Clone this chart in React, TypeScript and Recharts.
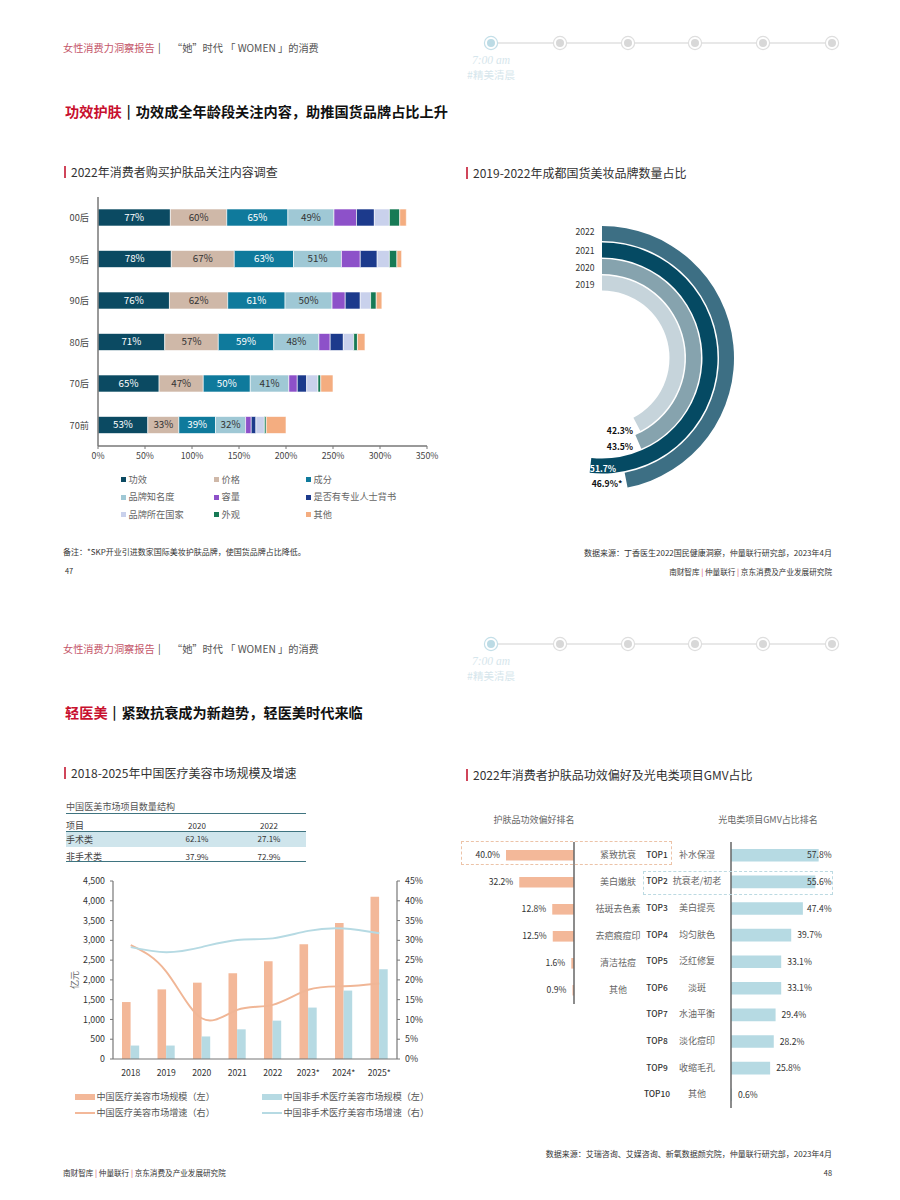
import React from 'react';
import {
  BarChart, Bar, XAxis, YAxis, LabelList, RadialBarChart, RadialBar, PolarAngleAxis, PolarRadiusAxis,
  Cell, ComposedChart, Line,
} from 'recharts';

const FONT = '"Noto Sans CJK SC", "Noto Sans", sans-serif';

// 关注内容调查
const generations = ['00后', '95后', '90后', '80后', '70后', '70前'];
const effectVals = [77, 78, 76, 71, 65, 53];
const priceVals = [60, 67, 62, 57, 47, 33];
const ingredientVals = [65, 63, 61, 59, 50, 39];
const brandVals = [49, 51, 50, 48, 41, 32];
const volumeVals = [24, 20, 14, 12, 9, 6];
const endorseVals = [19, 18, 16, 14, 10, 5];
const countryVals = [16, 13, 11, 11, 12, 9];
const lookVals = [11, 8, 6, 4, 3, 2];
const otherVals = [7, 5, 6, 8, 13, 21];
const surveySeries = [
  { name: '功效', vals: effectVals, color: '#0b4a62', label: '#ffffff' },
  { name: '价格', vals: priceVals, color: '#cfb8a8', label: '#333333' },
  { name: '成分', vals: ingredientVals, color: '#0f7a9c', label: '#ffffff' },
  { name: '品牌知名度', vals: brandVals, color: '#9fc8d5', label: '#333333' },
  { name: '容量', vals: volumeVals, color: '#8d51c9' },
  { name: '是否有专业人士背书', vals: endorseVals, color: '#1c3a8c' },
  { name: '品牌所在国家', vals: countryVals, color: '#c9d1ec' },
  { name: '外观', vals: lookVals, color: '#177a55' },
  { name: '其他', vals: otherVals, color: '#f4ad80' },
];
const surveyRows = generations.map((g, i) => {
  const row: any = { g };
  surveySeries.forEach((s) => { row[s.name] = s.vals[i]; });
  return row;
});

// 国货美妆品牌占比
const ringYears = ['2019', '2020', '2021', '2022'];
const ringVals = [42.3, 43.5, 51.7, 46.9];
const ringColors = ['#c6d4db', '#86a3ae', '#054a63', '#3d6f84'];
const ringRows = ringYears.map((year, i) => ({ year, v: ringVals[i] }));

// 医美市场规模
const marketYears = ['2018', '2019', '2020', '2021', '2022', '2023*', '2024*', '2025*'];
const marketSize = [1440, 1760, 1930, 2170, 2470, 2900, 3440, 4100];
const nonSurgicalSize = [340, 340, 570, 750, 970, 1300, 1730, 2270];
const marketGrowth = [28.8, 22.1, 10.3, 12.4, 13.7, 17.5, 18.4, 19.1];
const nonSurgicalGrowth = [28.3, 27, 28.3, 30.1, 30.5, 32.4, 33, 31.8];
const marketRows = marketYears.map((y, i) => ({
  y, size: marketSize[i], non: nonSurgicalSize[i], growth: marketGrowth[i], nonGrowth: nonSurgicalGrowth[i],
}));
const sizeTicks = [0, 500, 1000, 1500, 2000, 2500, 3000, 3500, 4000, 4500];
const rateTicks = [0, 5, 10, 15, 20, 25, 30, 35, 40, 45];

// 项目数量结构
const tableYears = ['2020', '2022'];
const tableRowsData = [
  { name: '手术类', vals: ['62.1%', '27.1%'] },
  { name: '非手术类', vals: ['37.9%', '72.9%'] },
];

// 功效偏好
const prefNames = ['紧致抗衰', '美白嫩肤', '祛斑去色素', '去疤痕痘印', '清洁祛痘', '其他'];
const prefVals = [40.0, 32.2, 12.8, 12.5, 1.6, 0.9];
const prefRows = prefNames.map((name, i) => ({ name, v: prefVals[i] }));
const gmvRanks = ['TOP1', 'TOP2', 'TOP3', 'TOP4', 'TOP5', 'TOP6', 'TOP7', 'TOP8', 'TOP9', 'TOP10'];
const gmvNames = ['补水保湿', '抗衰老/初老', '美白提亮', '均匀肤色', '泛红修复', '淡斑', '水油平衡', '淡化痘印', '收缩毛孔', '其他'];
const gmvVals = [57.8, 55.6, 47.4, 39.7, 33.1, 33.1, 29.4, 28.2, 25.8, 0.6];
const gmvRows = gmvNames.map((name, i) => ({ name, v: gmvVals[i] }));

const ORANGE = '#f3b899';
const BLUE = '#b6dae3';
const AXIS = '#777777';

// y is the vertical middle of the text
function T({ x, y, size = 9, color = '#444', weight = 400, anchor = 'left', rotate = 0, style, children }: any) {
  const tx = anchor === 'center' ? '-50%' : anchor === 'right' ? '-100%' : '0';
  return (
    <div style={{
      position: 'absolute', left: x, top: y, fontSize: size, color, fontWeight: weight, lineHeight: 1,
      whiteSpace: 'nowrap', transform: `translate(${tx}, -50%) rotate(${rotate}deg)`, ...style,
    }}>{children}</div>
  );
}

function Box({ x, y, w, h, color, style }: any) {
  return <div style={{ position: 'absolute', left: x, top: y, width: w, height: h, background: color, ...style }} />;
}

const dotXs = [491, 560, 628, 695, 763, 832];

function PageHead({ y, title, subtitle, left, right, leftY, rightY }: any) {
  return (
    <>
      <T x={63} y={y + 48} size={10.2} color="#c4566a">女性消费力洞察报告</T>
      <T x={158} y={y + 47} size={10} color="#444">|</T>
      <T x={172} y={y + 48} size={10.2} color="#555">“她”时代 「 WOMEN 」的消费</T>
      <Box x={491} y={y + 42} w={341} h={1.5} color="#e8e8e8" />
      {dotXs.map((dx, i) => (
        <div key={dx} style={{
          position: 'absolute', left: dx - 6, top: y + 37, width: 12, height: 12, borderRadius: '50%', boxSizing: 'border-box',
          background: i === 0 ? '#bcdbe5' : '#d8d8d8', border: '2px solid #fff', boxShadow: `0 0 0 1.2px ${i === 0 ? '#c4dfe8' : '#dedede'}`,
        }} />
      ))}
      <T x={491} y={y + 61} size={11.5} color="#d6e6ec" anchor="center" style={{ fontFamily: '"Liberation Serif", serif', fontStyle: 'italic' }}>7:00 am</T>
      <T x={491} y={y + 75} size={10.5} color="#d6e6ec" anchor="center">#精美清晨</T>
      <T x={65} y={y + 111} size={14.2} color="#c8102e" weight={700}>{title}</T>
      <T x={title.length * 14.2 + 65 + 5} y={y + 110} size={13} color="#111" weight={700}>|</T>
      <T x={title.length * 14.2 + 65 + 14} y={y + 111} size={14.2} color="#111" weight={700}>{subtitle}</T>
      <Box x={64} y={leftY - 6} w={1.5} h={12} color="#d0455a" />
      <T x={71} y={leftY} size={12} color="#333">{left}</T>
      <Box x={466} y={rightY - 6} w={1.5} h={12} color="#d0455a" />
      <T x={473} y={rightY} size={12} color="#333">{right}</T>
    </>
  );
}

function FooterOrgs({ x, y, anchor }: any) {
  return (
    <T x={x} y={y} size={7.6} color="#333" anchor={anchor}>
      南财智库 <span style={{ color: '#d0455a' }}>|</span> 仲量联行 <span style={{ color: '#d0455a' }}>|</span> 京东消费及产业发展研究院
    </T>
  );
}

function SurveyChart() {
  return (
    <div style={{ position: 'absolute', left: 50, top: 190 }}>
      <BarChart
        width={400} height={280} layout="vertical" data={surveyRows}
        margin={{ top: 7, right: 23, bottom: 0, left: 0 }} barSize={17}
      >
        <XAxis
          type="number" domain={[0, 350]} ticks={[0, 50, 100, 150, 200, 250, 300, 350]} tickFormatter={(v) => `${v}%`}
          height={24} interval={0} tick={{ fontSize: 8.8, fill: '#444' }} tickSize={3} tickMargin={4}
          axisLine={{ stroke: AXIS, strokeWidth: 1.5 }} tickLine={{ stroke: AXIS }}
        />
        <YAxis
          type="category" dataKey="g" width={48} tickLine={false} tickSize={0} tickMargin={9}
          tick={{ fontSize: 9.2, fill: '#444' }} axisLine={{ stroke: AXIS, strokeWidth: 1.5 }}
        />
        {surveySeries.map((s) => (
          <Bar key={s.name} dataKey={s.name} stackId="a" fill={s.color} stroke="#fff" strokeWidth={0.6} isAnimationActive={false}>
            {s.label && (
              <LabelList dataKey={s.name} position="center" formatter={(v: any) => `${v}%`} fill={s.label} fontSize={9.8} stroke="none" />
            )}
          </Bar>
        ))}
      </BarChart>
    </div>
  );
}

function SurveyLegend() {
  const colX = [121, 214, 306];
  const rowY = [479.5, 497, 514.5];
  return (
    <>
      {surveySeries.map((s, i) => {
        const x = colX[i % 3];
        const y = rowY[Math.floor(i / 3)];
        return (
          <React.Fragment key={s.name}>
            <Box x={x} y={y - 2.5} w={5} h={5} color={s.color} />
            <T x={x + 7.5} y={y} size={9.2} color="#666">{s.name}</T>
          </React.Fragment>
        );
      })}
    </>
  );
}

function RingChart() {
  return (
    <div style={{ position: 'absolute', left: 460, top: 200 }}>
      <RadialBarChart
        width={300} height={320} cx={142} cy={158} data={ringRows} startAngle={90} endAngle={-270}
        innerRadius={66.5} outerRadius={132.5} barSize={15} margin={{ top: 0, right: 0, bottom: 0, left: 0 }}
      >
        <PolarAngleAxis type="number" domain={[0, 100]} tick={false} axisLine={false} />
        <PolarRadiusAxis type="category" dataKey="year" tick={false} axisLine={false} />
        <RadialBar dataKey="v" isAnimationActive={false}>
          {ringRows.map((r, i) => <Cell key={r.year} fill={ringColors[i]} />)}
        </RadialBar>
      </RadialBarChart>
    </div>
  );
}

function RingLabels() {
  const yearYs = [284, 267, 250, 231];
  const valPos = [[620, 430, '#111'], [620, 446, '#111'], [603, 468, '#fff'], [607, 483, '#111']] as any[];
  return (
    <>
      {ringYears.map((y, i) => <T key={y} x={585} y={yearYs[i]} size={8.6} color="#333" anchor="center">{y}</T>)}
      {ringVals.map((v, i) => (
        <T key={i} x={valPos[i][0]} y={valPos[i][1]} size={8.6} weight={700} color={valPos[i][2]} anchor="center">
          {v}%{i === 3 ? '*' : ''}
        </T>
      ))}
    </>
  );
}

function MarketTable() {
  const cols = [197, 269];
  const rowY = [837.5, 856];
  return (
    <>
      <T x={66} y={807} size={9.1} color="#555">中国医美市场项目数量结构</T>
      <Box x={66} y={812.5} w={240} h={1} color="#3f7480" />
      <T x={66} y={825} size={9} color="#444">项目</T>
      {tableYears.map((y, i) => <T key={y} x={cols[i]} y={826} size={8} color="#333" anchor="center">{y}</T>)}
      <Box x={66} y={830.5} w={240} h={16.5} color="#cfe5ec" style={{ borderTop: '1px solid #3f7480', boxSizing: 'border-box' }} />
      {tableRowsData.map((r, j) => (
        <React.Fragment key={r.name}>
          <T x={66} y={rowY[j] + (j === 0 ? 1 : 0)} size={9} color="#444">{r.name}</T>
          {r.vals.map((v, i) => <T key={i} x={cols[i]} y={rowY[j] + 1} size={8} color="#333" anchor="center">{v}</T>)}
        </React.Fragment>
      ))}
      <Box x={66} y={861} w={240} h={1} color="#3f7480" />
    </>
  );
}

function MarketChart() {
  return (
    <div style={{ position: 'absolute', left: 50, top: 871 }}>
      <ComposedChart
        width={400} height={210} data={marketRows} barSize={8.6} barGap={0}
        margin={{ top: 10, right: 0, bottom: 0, left: 0 }}
      >
        <XAxis
          dataKey="y" height={22} interval={0} tickLine={false} tickSize={0} tickMargin={11}
          tick={{ fontSize: 8.6, fill: '#333' }} axisLine={{ stroke: AXIS, strokeWidth: 1.2 }}
        />
        <YAxis
          yAxisId="left" width={63} domain={[0, 4500]} ticks={sizeTicks} interval={0} tickFormatter={(v) => v.toLocaleString('en-US')}
          tick={{ fontSize: 8.8, fill: '#333' }} tickSize={3} tickMargin={5}
          axisLine={{ stroke: AXIS, strokeWidth: 1.2 }} tickLine={{ stroke: AXIS }}
        />
        <YAxis
          yAxisId="right" orientation="right" width={53} domain={[0, 45]} ticks={rateTicks} interval={0} tickFormatter={(v) => `${v}%`}
          tick={{ fontSize: 8.8, fill: '#333' }} tickSize={3} tickMargin={5}
          axisLine={{ stroke: AXIS, strokeWidth: 1.2 }} tickLine={{ stroke: AXIS }}
        />
        <Bar yAxisId="left" dataKey="size" fill={ORANGE} isAnimationActive={false} />
        <Bar yAxisId="left" dataKey="non" fill={BLUE} isAnimationActive={false} />
        <Line yAxisId="right" type="natural" dataKey="growth" stroke="#f0b696" strokeWidth={1.9} dot={false} isAnimationActive={false} />
        <Line yAxisId="right" type="natural" dataKey="nonGrowth" stroke={BLUE} strokeWidth={1.9} dot={false} isAnimationActive={false} />
      </ComposedChart>
    </div>
  );
}

function MarketLegend() {
  const items = [
    { x: 75, y: 1097, h: 5.5, c: ORANGE, t: '中国医疗美容市场规模（左）' },
    { x: 262, y: 1097, h: 5.5, c: BLUE, t: '中国非手术医疗美容市场规模（左）' },
    { x: 75, y: 1113, h: 1.5, c: ORANGE, t: '中国医疗美容市场增速（右）' },
    { x: 262, y: 1113, h: 1.5, c: BLUE, t: '中国非手术医疗美容市场增速（右）' },
  ];
  return (
    <>
      {items.map((it) => (
        <React.Fragment key={it.t}>
          <Box x={it.x} y={it.y - it.h / 2} w={20} h={it.h} color={it.c} />
          <T x={it.x + 21.5} y={it.y} size={9.1} color="#555">{it.t}</T>
        </React.Fragment>
      ))}
    </>
  );
}

function valueLeft(p: any) {
  const left = Math.min(p.x, p.x + p.width);
  return (
    <text x={left - 6} y={p.y + p.height / 2 + 3} textAnchor="end" fontSize={8.6} fill="#333">
      {Number(p.value).toFixed(1)}%
    </text>
  );
}

function PrefChart() {
  return (
    <div style={{ position: 'absolute', left: 450, top: 832 }}>
      <BarChart
        width={224} height={182} layout="vertical" data={prefRows} barSize={10.6}
        margin={{ top: 10, right: 0, bottom: 10, left: 56 }}
      >
        <XAxis type="number" domain={[0, 40]} reversed hide />
        <YAxis
          type="category" dataKey="name" orientation="right" width={100} interval={0} tickLine={false} tickSize={0} tickMargin={0}
          axisLine={{ stroke: '#666', strokeWidth: 1.5 }}
          tick={(p: any) => (
            <text x={p.x + 44} y={p.y + 2.5} textAnchor="middle" fontSize={9} fill="#666">{p.payload.value}</text>
          )}
        />
        <Bar dataKey="v" fill={ORANGE} isAnimationActive={false}>
          <LabelList dataKey="v" content={valueLeft} />
        </Bar>
      </BarChart>
    </div>
  );
}

function valueRight(p: any) {
  const end = p.x + p.width;
  return (
    <text x={Math.min(end + 6, 187)} y={p.y + p.height / 2 + 3} textAnchor="start" fontSize={8.6} fill="#333">
      {Number(p.value).toFixed(1)}%
    </text>
  );
}

function GmvChart() {
  return (
    <div style={{ position: 'absolute', left: 620, top: 832 }}>
      <BarChart
        width={230} height={286} layout="vertical" data={gmvRows} barSize={12.6}
        margin={{ top: 10, right: 28, bottom: 10, left: 0 }}
      >
        <XAxis type="number" domain={[0, 60]} hide />
        <YAxis
          type="category" dataKey="name" width={111} interval={0} tickLine={false} tickSize={0} tickMargin={0}
          axisLine={{ stroke: '#666', strokeWidth: 1.5 }}
          tick={(p: any) => (
            <g>
              <text x={p.x - 74} y={p.y + 2.5} textAnchor="middle" fontSize={8.4} fontWeight={500} fill="#333">{gmvRanks[p.index]}</text>
              <text x={p.x - 34} y={p.y + 2.5} textAnchor="middle" fontSize={9} fill="#666">{p.payload.value}</text>
            </g>
          )}
        />
        <Bar dataKey="v" fill={BLUE} isAnimationActive={false}>
          <LabelList dataKey="v" content={valueRight} />
        </Bar>
      </BarChart>
    </div>
  );
}

export default function App() {
  return (
    <div style={{ position: 'absolute', left: 0, top: 0, width: 900, height: 1200, background: '#fff', fontFamily: FONT, overflow: 'hidden' }}>
      <PageHead
        y={0} title="功效护肤" subtitle="功效成全年龄段关注内容，助推国货品牌占比上升"
        left="2022年消费者购买护肤品关注内容调查" right="2019-2022年成都国货美妆品牌数量占比" leftY={172} rightY={173}
      />
      <SurveyChart />
      <SurveyLegend />
      <RingChart />
      <RingLabels />
      <T x={63} y={552} size={8} color="#333">备注：*SKP开业引进数家国际美妆护肤品牌，使国货品牌占比降低。</T>
      <T x={832} y={553} size={8} color="#333" anchor="right">数据来源：丁香医生2022国民健康洞察，仲量联行研究部，2023年4月</T>
      <T x={65} y={571} size={7.4} color="#333">47</T>
      <FooterOrgs x={832} y={572} anchor="right" />

      <PageHead
        y={601} title="轻医美" subtitle="紧致抗衰成为新趋势，轻医美时代来临"
        left="2018-2025年中国医疗美容市场规模及增速" right="2022年消费者护肤品功效偏好及光电类项目GMV占比" leftY={773} rightY={775}
      />
      <MarketTable />
      <MarketChart />
      <T x={74} y={980} size={9} color="#666" anchor="center" rotate={-90}>亿元</T>
      <MarketLegend />
      <T x={534} y={819} size={9} color="#666" anchor="center">护肤品功效偏好排名</T>
      <T x={768} y={819} size={9} color="#666" anchor="center">光电类项目GMV占比排名</T>
      <PrefChart />
      <GmvChart />
      <Box x={461} y={841} w={211} h={24} style={{ border: '1px dashed #ecc3a8', boxSizing: 'border-box' }} />
      <Box x={643} y={871} w={190} h={24} style={{ border: '1px dashed #bcdae2', boxSizing: 'border-box' }} />
      <T x={832} y={1154} size={8} color="#333" anchor="right">数据来源：艾瑞咨询、艾媒咨询、新氧数据颜究院，仲量联行研究部，2023年4月</T>
      <FooterOrgs x={63} y={1173} anchor="left" />
      <T x={832} y={1173} size={7.4} color="#333" anchor="right">48</T>
    </div>
  );
}
